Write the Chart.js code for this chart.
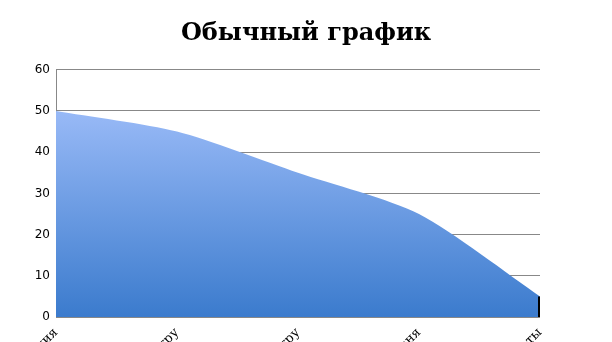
<!DOCTYPE html>
<html>
<head>
<meta charset="utf-8">
<script src="https://cdn.jsdelivr.net/npm/chart.js@4/dist/chart.umd.min.js"></script>
<style>
  html, body { margin: 0; padding: 0; background: #fff; overflow: hidden; }
  #wrap { width: 612px; height: 342px; }
</style>
</head>
<body>
<div id="wrap"><canvas id="chart" width="612" height="342"></canvas></div>
<script>
// Обычный график - area chart
const categories = ['Начальная позиция', 'Движение к центру', 'Смещение к центру', 'Снижение уровня', 'Результаты'];
const values = [50, 45, 35, 25, 5];
const yTicks = { min: 0, max: 60, step: 10 };

// вертикальный градиент для заливки
function areaGradient(context) {
  const chart = context.chart;
  const area = chart.chartArea;
  if (!area) return '#6f9be8';
  const g = chart.ctx.createLinearGradient(0, area.top, 0, area.bottom);
  g.addColorStop(0, '#abc6ff');
  g.addColorStop(1, '#3b7bcd');
  return g;
}

// черная вертикальная грань справа
const rightEdge = {
  id: 'rightEdge',
  afterDatasetsDraw(chart) {
    const meta = chart.getDatasetMeta(0);
    const last = meta.data[meta.data.length - 1];
    if (!last) return;
    const ctx = chart.ctx;
    ctx.save();
    ctx.strokeStyle = '#000';
    ctx.lineWidth = 2;
    ctx.beginPath();
    ctx.moveTo(last.x - 1, last.y);
    ctx.lineTo(last.x - 1, chart.chartArea.bottom);
    ctx.stroke();
    ctx.restore();
  }
};

new Chart(document.getElementById('chart'), {
  type: 'line',
  data: {
    labels: categories,
    datasets: [{
      data: values,
      fill: 'origin',
      backgroundColor: areaGradient,
      borderWidth: 0,
      borderColor: 'rgba(0,0,0,0)',
      pointRadius: 0,
      tension: 0.25
    }]
  },
  options: {
    responsive: false,
    animation: false,
    layout: { padding: 0 },
    plugins: {
      legend: { display: false },
      tooltip: { enabled: false },
      title: {
        display: true,
        text: 'Обычный график',
        color: '#000',
        font: { family: 'DejaVu Serif', size: 24, weight: 'bold' },
        padding: { top: 19, bottom: 22 }
      }
    },
    scales: {
      x: {
        offset: false,
        grid: { display: false },
        border: { display: false },
        ticks: {
          color: '#000',
          font: { family: 'DejaVu Serif', size: 13 },
          minRotation: 45,
          maxRotation: 45,
          padding: 0
        },
        afterFit(scale) {
          scale.height = 25;
          scale.paddingLeft = 0;
          scale.paddingRight = 0;
        }
      },
      y: {
        min: yTicks.min,
        max: yTicks.max,
        grid: { color: '#888', lineWidth: 1, drawTicks: false },
        border: { display: true, color: '#888', width: 1 },
        ticks: {
          stepSize: yTicks.step,
          color: '#000',
          font: { family: 'DejaVu Sans', size: 12 },
          padding: 6
        },
        afterFit(scale) { scale.width = 56; }
      },
      // пустое место справа
      yRight: {
        position: 'right',
        display: true,
        min: yTicks.min,
        max: yTicks.max,
        grid: { display: false },
        border: { display: false },
        ticks: { display: false },
        afterFit(scale) { scale.width = 72; }
      }
    }
  },
  plugins: [rightEdge]
});
</script>
</body>
</html>
